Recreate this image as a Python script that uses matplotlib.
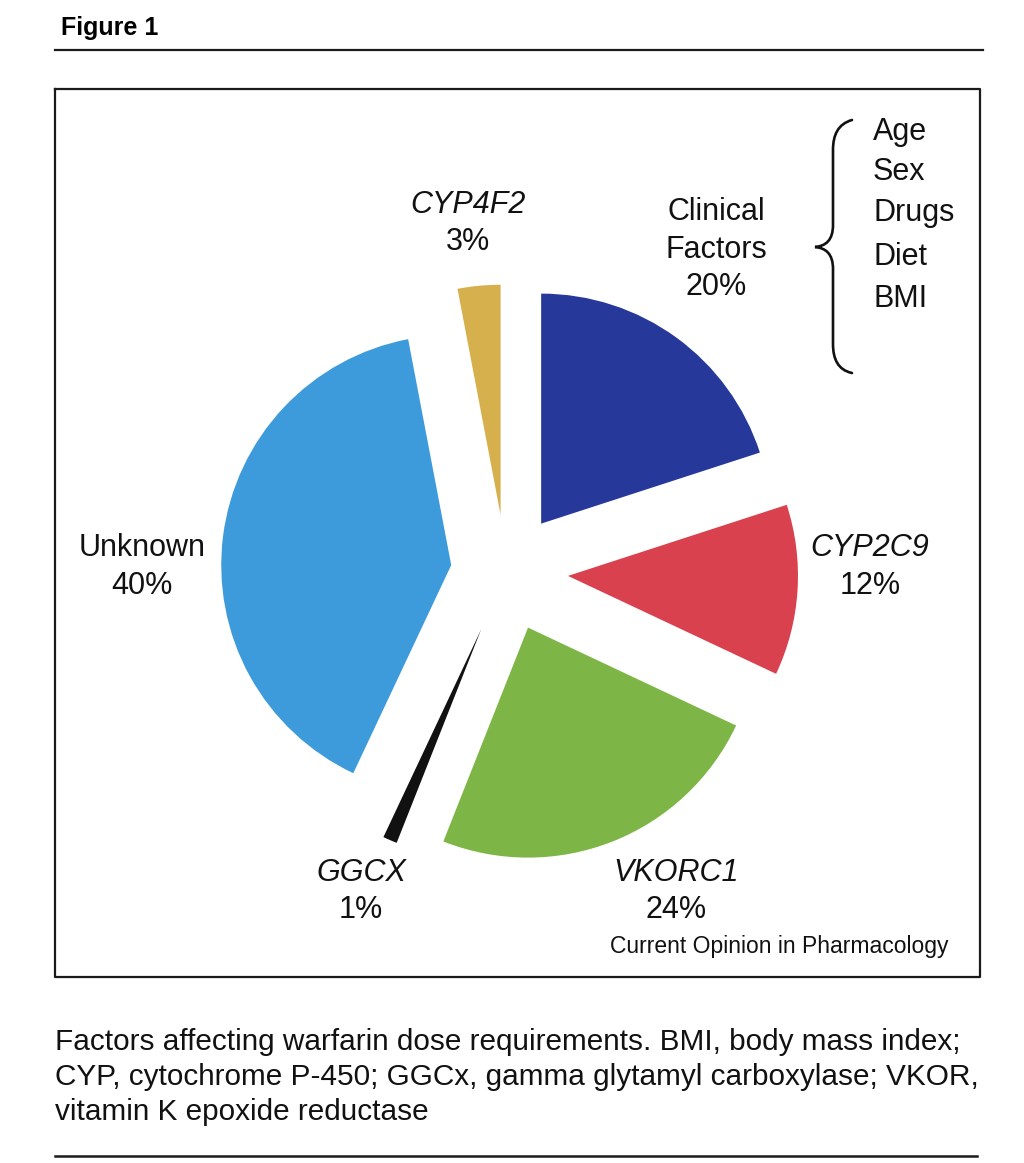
import matplotlib
matplotlib.use("Agg")
import matplotlib.pyplot as plt
from matplotlib import font_manager
from matplotlib.path import Path
from matplotlib.patches import PathPatch

#===========================================
# data
labels = ['Clinical\nFactors', 'CYP2C9', 'VKORC1', 'GGCX', 'Unknown', 'CYP4F2']
shares = [20, 12, 24, 1, 40, 3]
italic = [False, True, True, True, False, True]
clinical_items = ['Age', 'Sex', 'Drugs', 'Diet', 'BMI']
caption = ["Factors affecting warfarin dose requirements. BMI, body mass index;",
           "CYP, cytochrome P-450; GGCx, gamma glytamyl carboxylase; VKOR,",
           "vitamin K epoxide reductase"]

colors = ['#27389b', '#d9414f', '#7db646', '#111111', '#3d9bdc', '#d6b04c']
explode = [0.26, 0.27, 0.26, 0.27, 0.24, 0.25]

W, H = 1024, 1163
names = {f.name for f in font_manager.fontManager.ttflist}
narrow = 'Liberation Sans Narrow' if 'Liberation Sans Narrow' in names else 'Liberation Sans'
plt.rcParams['font.family'] = ['Liberation Sans', 'DejaVu Sans']

fig = plt.figure(figsize=(W/100, H/100), dpi=100)

#===========================================
# pie, centre (505,572) px, radius 230 px
cx, cy, R, half = 506, 572, 230, 400
ax = fig.add_axes([(cx-half)/W, (H-cy-half)/H, 2*half/W, 2*half/H])
ax.pie(shares, colors=colors, explode=explode, startangle=90,
       counterclock=False, radius=1.0, wedgeprops=dict(linewidth=0))
ax.set_xlim(-half/R, half/R)
ax.set_ylim(-half/R, half/R)
ax.axis('off')

#===========================================
# overlay in pixel coords for lines and text
ov = fig.add_axes([0, 0, 1, 1])
ov.set_xlim(0, W)
ov.set_ylim(H, 0)
ov.axis('off')
ov.patch.set_alpha(0)

ov.text(61, 28, 'Figure 1', fontsize=18, fontweight='bold', family=narrow,
        ha='left', va='center')
ov.plot([55, 983], [50, 50], color='#1a1a1a', lw=1.6)
ov.plot([55, 980, 980, 55, 55], [89, 89, 977, 977, 89], color='#1a1a1a', lw=1.6)
ov.plot([55, 977], [1156, 1156], color='#1a1a1a', lw=1.8)

# labels for wedges: (x centre, y of first line)
lab_pos = [(716, 212), (870, 548), (676, 873), (361, 873), (142, 548), (468, 205)]
fs = 22
for lab, s, it, (x, y) in zip(labels, shares, italic, lab_pos):
    lines = lab.split('\n') + ['%d%%' % s]
    for k, ln in enumerate(lines):
        st = 'italic' if (it and k < len(lines)-1) else 'normal'
        ov.text(x, y + k*37.5, ln, fontsize=fs, style=st, ha='center',
                va='center', color='#111111')

# brace and clinical items
verts = [(852, 120), (838, 124), (833, 135), (833, 150),
         (833, 225),
         (833, 240), (826, 246), (815, 247),
         (826, 248), (833, 254), (833, 269),
         (833, 344),
         (833, 359), (838, 370), (852, 373)]
codes = [Path.MOVETO, Path.CURVE4, Path.CURVE4, Path.CURVE4,
         Path.LINETO,
         Path.CURVE4, Path.CURVE4, Path.CURVE4,
         Path.CURVE4, Path.CURVE4, Path.CURVE4,
         Path.LINETO,
         Path.CURVE4, Path.CURVE4, Path.CURVE4]
ov.add_patch(PathPatch(Path(verts, codes), fill=False, lw=1.9,
                       edgecolor='#111111', capstyle='round'))
item_y = [132, 172, 213, 257, 299]
for it_txt, y in zip(clinical_items, item_y):
    ov.text(873, y, it_txt, fontsize=fs, ha='left', va='center', color='#111111')

ov.text(948, 947, 'Current Opinion in Pharmacology', fontsize=16.5,
        ha='right', va='center', color='#111111')

# caption, widest line fitted to the column width
cap_y = [1042, 1077, 1112]
cap_texts = [ov.text(55, y, t, fontsize=18, family=narrow, ha='left',
                     va='center', color='#111111') for t, y in zip(caption, cap_y)]
r = fig.canvas.get_renderer()
w = max(t.get_window_extent(r).width for t in cap_texts)
for t in cap_texts:
    t.set_fontsize(18 * 922 / w)

fig.savefig('out.png', dpi=100, facecolor='white')
